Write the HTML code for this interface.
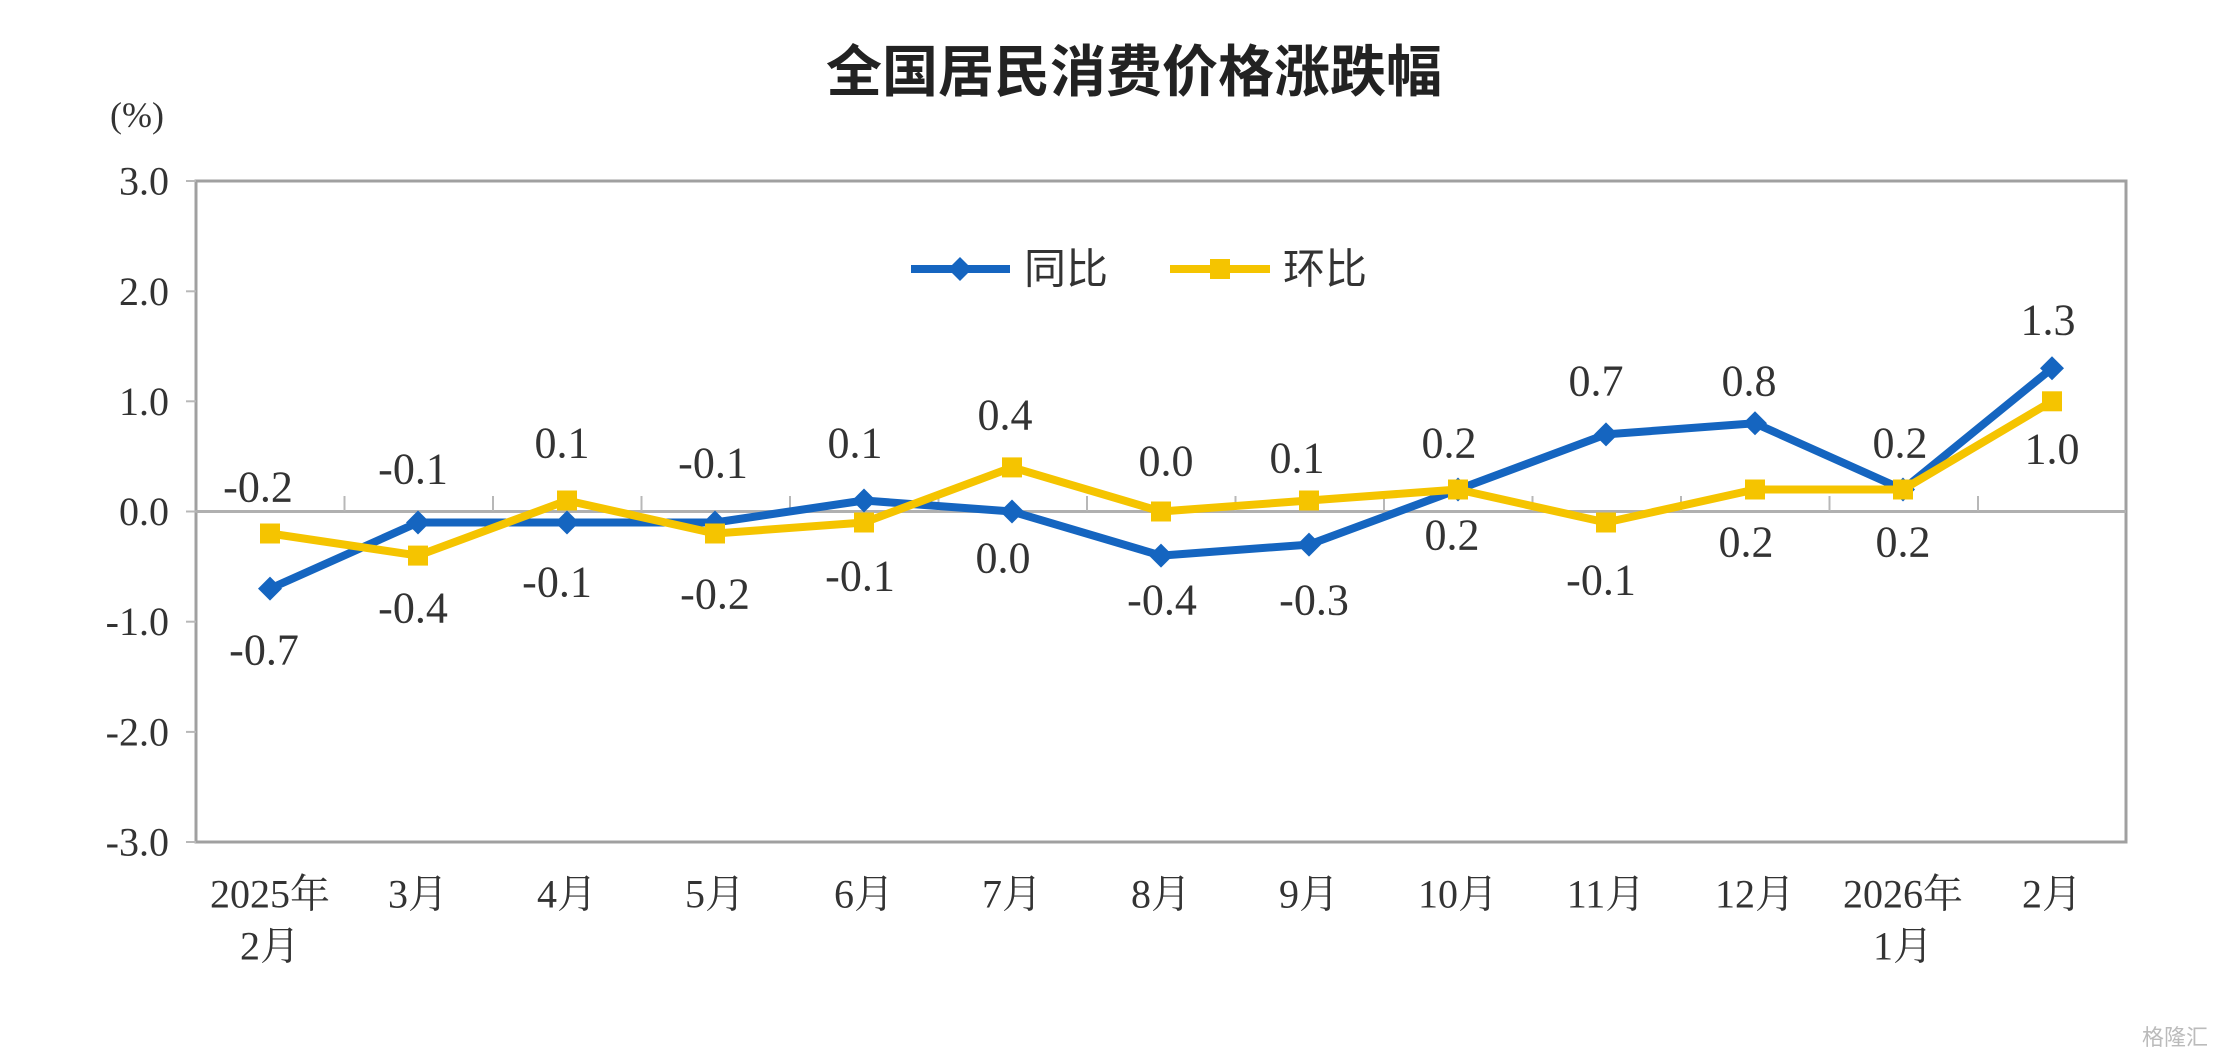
<!DOCTYPE html>
<html><head><meta charset="utf-8"><style>
html,body{margin:0;padding:0;background:#fff;}
svg{display:block;}
</style></head><body>
<svg width="2214" height="1062" viewBox="0 0 2214 1062" xmlns="http://www.w3.org/2000/svg">
<rect width="2214" height="1062" fill="#fff"/>
<text x="1134" y="72" font-family="Liberation Sans, Noto Sans CJK SC, sans-serif" font-size="56" font-weight="bold" fill="#222" text-anchor="middle" dominant-baseline="central">全国居民消费价格涨跌幅</text>
<text x="137" y="115" font-family="Liberation Serif, serif" font-size="36" fill="#333" text-anchor="middle" dominant-baseline="central">(%)</text>
<rect x="196" y="181" width="1930" height="661" fill="none" stroke="#a0a0a0" stroke-width="3"/>
<line x1="196" y1="511.5" x2="2126" y2="511.5" stroke="#b0b0b0" stroke-width="3"/>
<g stroke="#b8b8b8" stroke-width="2">
<line x1="344.5" y1="511" x2="344.5" y2="496"/><line x1="493" y1="511" x2="493" y2="496"/><line x1="641.5" y1="511" x2="641.5" y2="496"/><line x1="790" y1="511" x2="790" y2="496"/><line x1="938.5" y1="511" x2="938.5" y2="496"/><line x1="1087" y1="511" x2="1087" y2="496"/><line x1="1235.5" y1="511" x2="1235.5" y2="496"/><line x1="1384" y1="511" x2="1384" y2="496"/><line x1="1532.5" y1="511" x2="1532.5" y2="496"/><line x1="1681" y1="511" x2="1681" y2="496"/><line x1="1829.5" y1="511" x2="1829.5" y2="496"/><line x1="1978" y1="511" x2="1978" y2="496"/>
<line x1="186" y1="181" x2="196" y2="181"/><line x1="186" y1="291.3" x2="196" y2="291.3"/><line x1="186" y1="401.3" x2="196" y2="401.3"/><line x1="186" y1="511.5" x2="196" y2="511.5"/><line x1="186" y1="621.7" x2="196" y2="621.7"/><line x1="186" y1="731.9" x2="196" y2="731.9"/><line x1="186" y1="842" x2="196" y2="842"/>
</g>
<g font-family="Liberation Serif, serif" font-size="40" fill="#333" text-anchor="end" dominant-baseline="central">
<text x="169" y="181">3.0</text><text x="169" y="291.3">2.0</text><text x="169" y="401.3">1.0</text><text x="169" y="511.5">0.0</text><text x="169" y="621.7">-1.0</text><text x="169" y="731.9">-2.0</text><text x="169" y="842">-3.0</text>
</g>
<g font-family="Liberation Serif, Noto Serif CJK SC, serif" font-size="40" fill="#333" text-anchor="middle" dominant-baseline="central">
<text x="270" y="894">2025年</text><text x="270" y="946">2月</text>
<text x="418" y="894">3月</text><text x="567" y="894">4月</text><text x="715" y="894">5月</text><text x="864" y="894">6月</text><text x="1012" y="894">7月</text><text x="1161" y="894">8月</text><text x="1309" y="894">9月</text><text x="1458" y="894">10月</text><text x="1606" y="894">11月</text><text x="1755" y="894">12月</text>
<text x="1903" y="894">2026年</text><text x="1903" y="946">1月</text><text x="2052" y="894">2月</text>
</g>
<!-- legend -->
<line x1="911" y1="269" x2="1010" y2="269" stroke="#1565c0" stroke-width="8"/>
<path d="M960 257 L972 269 L960 281 L948 269Z" fill="#1565c0"/>
<text x="1024" y="269" font-family="Liberation Sans, Noto Sans CJK SC, sans-serif" font-size="42" fill="#333" dominant-baseline="central">同比</text>
<line x1="1170" y1="269" x2="1270" y2="269" stroke="#f5c400" stroke-width="8"/>
<rect x="1210" y="259" width="20" height="20" fill="#f5c400"/>
<text x="1283" y="269" font-family="Liberation Sans, Noto Sans CJK SC, sans-serif" font-size="42" fill="#333" dominant-baseline="central">环比</text>
<!-- 同比 -->
<polyline fill="none" stroke="#1565c0" stroke-width="8" stroke-linejoin="round" points="270,588.6 418,522.5 567,522.5 715,522.5 864,500.5 1012,511.5 1161,555.6 1309,544.6 1458,489.5 1606,434.4 1755,423.3 1903,489.5 2052,368.3"/>
<g fill="#1565c0">
<path d="M270 576.6 l12 12 -12 12 -12 -12Z"/><path d="M418 510.5 l12 12 -12 12 -12 -12Z"/><path d="M567 510.5 l12 12 -12 12 -12 -12Z"/><path d="M715 510.5 l12 12 -12 12 -12 -12Z"/><path d="M864 488.5 l12 12 -12 12 -12 -12Z"/><path d="M1012 499.5 l12 12 -12 12 -12 -12Z"/><path d="M1161 543.6 l12 12 -12 12 -12 -12Z"/><path d="M1309 532.6 l12 12 -12 12 -12 -12Z"/><path d="M1458 477.5 l12 12 -12 12 -12 -12Z"/><path d="M1606 422.4 l12 12 -12 12 -12 -12Z"/><path d="M1755 411.3 l12 12 -12 12 -12 -12Z"/><path d="M1903 477.5 l12 12 -12 12 -12 -12Z"/><path d="M2052 356.3 l12 12 -12 12 -12 -12Z"/>
</g>
<!-- 环比 -->
<polyline fill="none" stroke="#f5c400" stroke-width="8" stroke-linejoin="round" points="270,533.5 418,555.6 567,500.5 715,533.5 864,522.5 1012,467.4 1161,511.5 1309,500.5 1458,489.5 1606,522.5 1755,489.5 1903,489.5 2052,401.3"/>
<g fill="#f5c400">
<rect x="260" y="523.5" width="20" height="20"/><rect x="408" y="545.6" width="20" height="20"/><rect x="557" y="490.5" width="20" height="20"/><rect x="705" y="523.5" width="20" height="20"/><rect x="854" y="512.5" width="20" height="20"/><rect x="1002" y="457.4" width="20" height="20"/><rect x="1151" y="501.5" width="20" height="20"/><rect x="1299" y="490.5" width="20" height="20"/><rect x="1448" y="479.5" width="20" height="20"/><rect x="1596" y="512.5" width="20" height="20"/><rect x="1745" y="479.5" width="20" height="20"/><rect x="1893" y="479.5" width="20" height="20"/><rect x="2042" y="391.3" width="20" height="20"/>
</g>
<g font-family="Liberation Serif, serif" font-size="44" fill="#333" text-anchor="middle" dominant-baseline="central">
<text x="258" y="487">-0.2</text><text x="264" y="650">-0.7</text>
<text x="413" y="469">-0.1</text><text x="413" y="608">-0.4</text>
<text x="562" y="443">0.1</text><text x="557" y="582">-0.1</text>
<text x="713" y="463">-0.1</text><text x="715" y="594">-0.2</text>
<text x="855" y="443">0.1</text><text x="860" y="576">-0.1</text>
<text x="1005" y="415">0.4</text><text x="1003" y="558">0.0</text>
<text x="1166" y="461">0.0</text><text x="1162" y="600">-0.4</text>
<text x="1297" y="458">0.1</text><text x="1314" y="600">-0.3</text>
<text x="1449" y="443">0.2</text><text x="1452" y="535">0.2</text>
<text x="1596" y="381">0.7</text><text x="1601" y="580">-0.1</text>
<text x="1749" y="381">0.8</text><text x="1746" y="542">0.2</text>
<text x="1900" y="443">0.2</text><text x="1903" y="542">0.2</text>
<text x="2048" y="320">1.3</text><text x="2052" y="449">1.0</text>
</g>
<text x="2208" y="1045" font-family="Liberation Sans, Noto Sans CJK SC, sans-serif" font-size="22" fill="#bbb" text-anchor="end">格隆汇</text>
</svg>
</body></html>
